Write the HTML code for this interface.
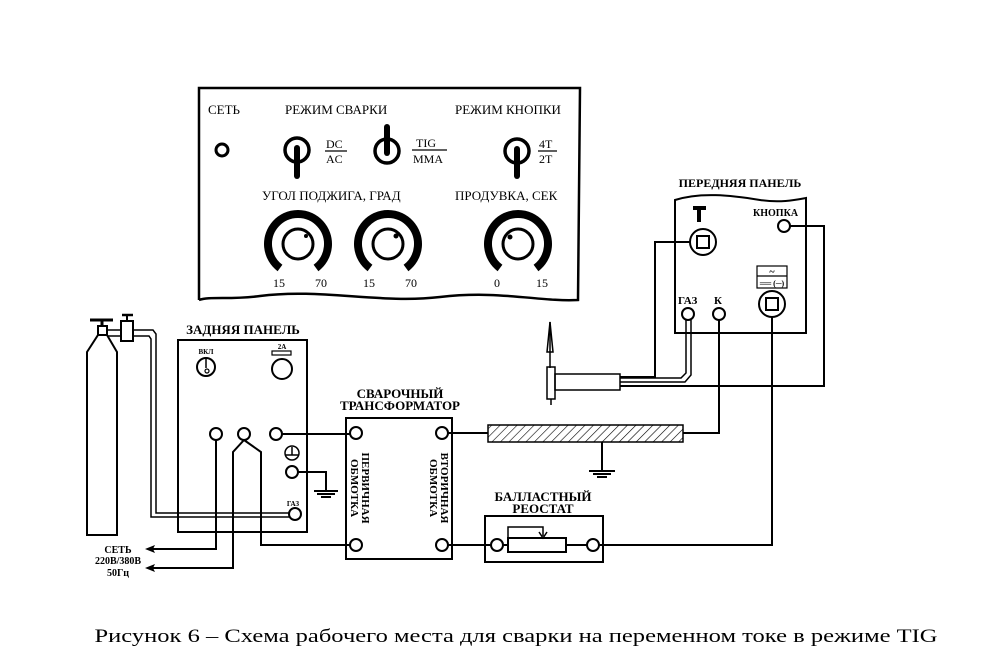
<!DOCTYPE html>
<html><head><meta charset="utf-8"><style>
html,body{margin:0;padding:0;background:#fff}
svg{display:block}
text{font-family:"Liberation Serif","DejaVu Serif",serif;fill:#000}
.b{font-weight:bold}
</style></head><body>
<svg width="1000" height="666" viewBox="0 0 1000 666" xmlns="http://www.w3.org/2000/svg">
<defs>
<pattern id="h" width="6" height="6" patternUnits="userSpaceOnUse" patternTransform="rotate(45)">
<rect width="6" height="6" fill="#fff"/><line x1="0" y1="0" x2="0" y2="6" stroke="#000" stroke-width="1.2"/></pattern>
</defs>
<g fill="none" stroke="#000" stroke-width="2">
<!-- top panel -->
<path d="M199,300 L199,88 L580,88 L578,300 C540,302 500,290 440,297 C380,304 320,288 260,296 C230,300 210,296 199,300" stroke-width="2.5"/>
<circle cx="222" cy="150" r="6" stroke-width="3"/>
<circle cx="297" cy="150" r="12" stroke-width="3.5"/>
<line x1="297" y1="148" x2="297" y2="176" stroke-width="6" stroke-linecap="round"/>
<circle cx="387" cy="151" r="12" stroke-width="3.5"/>
<line x1="387" y1="153" x2="387" y2="127" stroke-width="6" stroke-linecap="round"/>
<circle cx="517" cy="151" r="12" stroke-width="3.5"/>
<line x1="517" y1="149" x2="517" y2="176" stroke-width="6" stroke-linecap="round"/>
<line x1="325" y1="151" x2="347" y2="151" stroke-width="1.2"/>
<line x1="412" y1="150" x2="447" y2="150" stroke-width="1.2"/>
<line x1="538" y1="151" x2="557" y2="151" stroke-width="1.2"/>
</g>
<g fill="none" stroke="#000">
<g id="k1">
<path d="M280,268 A30,30 0 1 1 316,268" stroke-width="8"/>
<circle cx="298" cy="244" r="15" stroke-width="3"/>
<circle cx="306" cy="236" r="2" fill="#000" stroke="none"/>
</g>
<path d="M370,268 A30,30 0 1 1 406,268" stroke-width="8"/>
<circle cx="388" cy="244" r="15" stroke-width="3"/>
<circle cx="396" cy="236" r="2" fill="#000"/>
<path d="M500,268 A30,30 0 1 1 536,268" stroke-width="8"/>
<circle cx="518" cy="244" r="15" stroke-width="3"/>
<circle cx="510" cy="237" r="2" fill="#000"/>
</g>
<text x="208" y="114" font-size="13">СЕТЬ</text>
<text x="285" y="114" font-size="13">РЕЖИМ СВАРКИ</text>
<text x="455" y="114" font-size="13">РЕЖИМ КНОПКИ</text>
<text x="326" y="148" font-size="12">DC</text>
<text x="326" y="163" font-size="12">AC</text>
<text x="416" y="147" font-size="12">TIG</text>
<text x="413" y="163" font-size="12">MMA</text>
<text x="539" y="148" font-size="12">4T</text>
<text x="539" y="163" font-size="12">2T</text>
<text x="262" y="200" font-size="13">УГОЛ ПОДЖИГА, ГРАД</text>
<text x="455" y="200" font-size="13">ПРОДУВКА, СЕК</text>
<g font-size="12"><text x="273" y="287">15</text><text x="315" y="287">70</text><text x="363" y="287">15</text><text x="405" y="287">70</text><text x="494" y="287">0</text><text x="536" y="287">15</text></g>

<!-- front panel -->
<g fill="none" stroke="#000" stroke-width="2">
<path d="M675,333 L675,200 C700,192 730,195 760,200 C780,203 795,200 806,198 L806,333 Z"/>
<circle cx="703" cy="242" r="13"/><rect x="697" y="236" width="12" height="12"/>
<circle cx="784" cy="226" r="6"/>
<rect x="757" y="266" width="30" height="22" stroke-width="1.2"/><line x1="757" y1="276" x2="787" y2="276" stroke-width="1.2"/>
<circle cx="772" cy="304" r="13"/><rect x="766" y="298" width="12" height="12"/>
<circle cx="688" cy="314" r="6"/><circle cx="719" cy="314" r="6"/>
<!-- wires -->
<polyline points="690,242 655,242 655,377 620,377"/>
<polyline points="686,320 686,373 681,378 620,378" stroke-width="1.5"/>
<polyline points="691,320 691,375 685,382 620,382" stroke-width="1.5"/>
<polyline points="790,226 824,226 824,386 620,386"/>
<polyline points="719,320 719,433 683,433"/>
<polyline points="772,317 772,545 599,545"/>
<!-- torch -->
<path d="M550,322 L553,352 L547,352 Z" stroke-width="1.5"/>
<line x1="550" y1="322" x2="550" y2="368" stroke-width="1.5"/>
<rect x="547" y="367" width="8" height="32" stroke-width="1.5"/>
<line x1="551" y1="399" x2="551" y2="405" stroke-width="1.5"/>
<rect x="555" y="374" width="65" height="16" stroke-width="1.5"/>
<!-- bar -->
<rect x="488" y="425" width="195" height="17" fill="url(#h)" stroke-width="1.5"/>
<line x1="602" y1="442" x2="602" y2="470"/>
<line x1="589" y1="471" x2="615" y2="471"/><line x1="593" y1="474" x2="611" y2="474"/><line x1="597" y1="477" x2="607" y2="477"/>
<!-- transformer -->
<rect x="346" y="418" width="106" height="141"/>
<circle cx="356" cy="433" r="6"/><circle cx="442" cy="433" r="6"/><circle cx="356" cy="545" r="6"/><circle cx="442" cy="545" r="6"/>
<line x1="448" y1="433" x2="488" y2="433"/>
<line x1="448" y1="545" x2="491" y2="545"/>
<!-- rheostat -->
<rect x="485" y="516" width="118" height="46"/>
<circle cx="497" cy="545" r="6"/><circle cx="593" cy="545" r="6"/>
<rect x="508" y="538" width="58" height="14"/>
<line x1="503" y1="545" x2="508" y2="545"/><line x1="566" y1="545" x2="587" y2="545"/>
<polyline points="508,538 508,527 543,527 543,536" stroke-width="1.5"/>
<path d="M539,532 L543,538 L547,532" stroke-width="1.5"/>
<!-- back panel -->
<rect x="178" y="340" width="129" height="192"/>
<circle cx="206" cy="367" r="9"/><line x1="206" y1="359" x2="206" y2="368" stroke-width="1.5"/><circle cx="207" cy="371" r="2" stroke-width="1.2"/>
<rect x="272" y="351" width="19" height="4" stroke-width="1.2"/>
<circle cx="282" cy="369" r="10"/>
<circle cx="216" cy="434" r="6"/><circle cx="244" cy="434" r="6"/><circle cx="276" cy="434" r="6"/>
<circle cx="292" cy="453" r="7" stroke-width="1.5"/><line x1="292" y1="447" x2="292" y2="455" stroke-width="1.5"/><line x1="286" y1="455" x2="298" y2="455" stroke-width="1.5"/>
<circle cx="292" cy="472" r="6"/>
<circle cx="295" cy="514" r="6"/>
<line x1="282" y1="434" x2="350" y2="434"/>
<polyline points="298,472 326,472 326,490"/>
<line x1="314" y1="491" x2="338" y2="491"/><line x1="317" y1="494" x2="335" y2="494"/><line x1="321" y1="497" x2="331" y2="497"/>
<polyline points="216,440 216,549 152,549"/>
<polyline points="244,440 233,452 233,568 152,568"/>
<polyline points="244,440 261,452 261,545 350,545"/>
<!-- gas hose -->
<polyline points="133,330 153,330 156,334 156,513 289,513" stroke-width="1.5"/>
<polyline points="133,336 149,336 151,339 151,517 289,517" stroke-width="1.5"/>
<!-- cylinder -->
<path d="M87,535 L87,352 L98,335 L107,335 L117,352 L117,535 Z"/>
<rect x="98" y="326" width="9" height="9"/>
<line x1="102" y1="320" x2="102" y2="326" stroke-width="3"/>
<line x1="90" y1="320" x2="113" y2="320" stroke-width="3"/>
<line x1="107" y1="330" x2="121" y2="330" stroke-width="1.5"/><line x1="107" y1="336" x2="121" y2="336" stroke-width="1.5"/>
<rect x="121" y="321" width="12" height="20"/>
<line x1="127" y1="316" x2="127" y2="321"/><line x1="122" y1="315" x2="133" y2="315" stroke-width="2.5"/>
</g>
<path d="M145,549 L155,545 L153,549 L155,553 Z" fill="#000"/>
<path d="M145,568 L155,564 L153,568 L155,572 Z" fill="#000"/>
<path d="M693,208 L706,208 M699,208 L699,222" stroke="#000" stroke-width="4" fill="none"/>

<g class="b" font-size="12">
<text x="740" y="187" text-anchor="middle">ПЕРЕДНЯЯ ПАНЕЛЬ</text>
<text x="753" y="216" font-size="10">КНОПКА</text>
<text x="678" y="304" font-size="11">ГАЗ</text>
<text x="714" y="304" font-size="11">К</text>
<text x="772" y="275" text-anchor="middle" font-size="10">~</text>
<text x="772" y="286" text-anchor="middle" font-size="8">══ (─)</text>
<text x="400" y="398" text-anchor="middle" font-size="13">СВАРОЧНЫЙ</text>
<text x="400" y="410" text-anchor="middle" font-size="13">ТРАНСФОРМАТОР</text>
<text x="543" y="501" text-anchor="middle" font-size="13">БАЛЛАСТНЫЙ</text>
<text x="543" y="513" text-anchor="middle" font-size="13">РЕОСТАТ</text>
<text x="243" y="334" text-anchor="middle" font-size="13">ЗАДНЯЯ ПАНЕЛЬ</text>
<text x="206" y="354" text-anchor="middle" font-size="7">ВКЛ</text>
<text x="282" y="349" text-anchor="middle" font-size="7">2А</text>
<text x="293" y="506" text-anchor="middle" font-size="7">ГАЗ</text>
<text x="118" y="553" text-anchor="middle" font-size="10">СЕТЬ</text>
<text x="118" y="564" text-anchor="middle" font-size="10">220В/380В</text>
<text x="118" y="576" text-anchor="middle" font-size="10">50Гц</text>
<text transform="translate(362,488) rotate(90)" text-anchor="middle" font-size="11">ПЕРВИЧНАЯ</text>
<text transform="translate(351,488) rotate(90)" text-anchor="middle" font-size="11">ОБМОТКА</text>
<text transform="translate(441,488) rotate(90)" text-anchor="middle" font-size="11">ВТОРИЧНАЯ</text>
<text transform="translate(430,488) rotate(90)" text-anchor="middle" font-size="11">ОБМОТКА</text>
</g>
<text x="516" y="642" text-anchor="middle" font-size="19" textLength="843" lengthAdjust="spacingAndGlyphs">Рисунок 6 – Схема рабочего места для сварки на переменном токе в режиме TIG</text>
</svg>
</body></html>
